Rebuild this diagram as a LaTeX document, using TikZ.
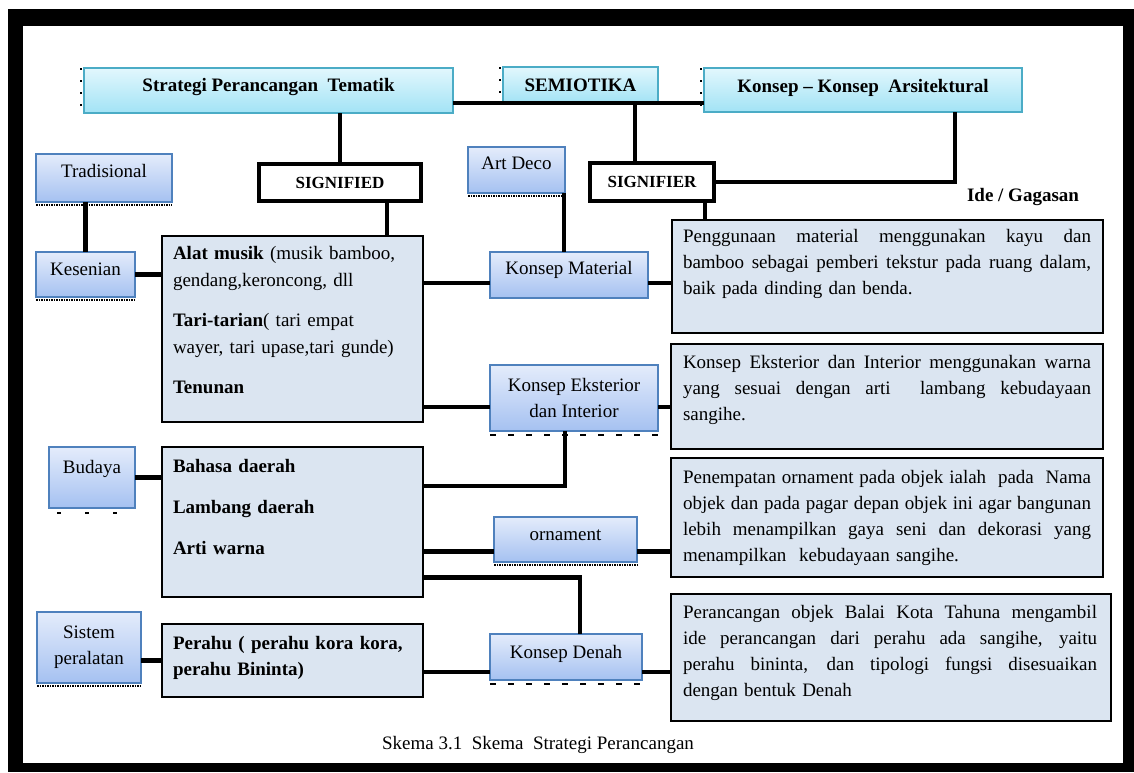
\documentclass[tikz,border=0pt]{standalone}
\usepackage{fontspec}
\setmainfont{Liberation Serif}
\usetikzlibrary{calc}

\definecolor{aqualine}{HTML}{4BACC6}
\definecolor{aquatop}{HTML}{E2F7FD}
\definecolor{aquabot}{HTML}{A2E3F5}
\definecolor{blueline}{HTML}{4F81BD}
\definecolor{bluetop}{HTML}{E4ECFB}
\definecolor{bluebot}{HTML}{A5C1F1}
\definecolor{descfill}{HTML}{DBE5F1}

% one justified line of a text block
\newcommand{\jline}[2][408pt]{\leavevmode\hbox to #1{\spaceskip=0.25em plus 1fil\relax #2}}

\begin{document}
\begin{tikzpicture}
	[x=1pt, y=-1pt,
	every node/.style={inner sep=0pt, outer sep=0pt},
	topbox/.style={anchor=north west, draw=aqualine, line width=1.5pt, top color=aquatop, bottom color=aquabot, font=\bfseries\fontsize{19}{22}\selectfont, text height=13pt},
	sigbox/.style={anchor=north west, draw=black, line width=4pt, fill=white, font=\bfseries\fontsize{17}{20}\selectfont},
	bluebox/.style={anchor=north west, draw=blueline, line width=1.5pt, top color=bluetop, bottom color=bluebot, font=\fontsize{19}{26}\selectfont},
	onetext/.style={text height=13pt, text depth=#1},
	itembox/.style={anchor=north west, draw=black, line width=2.8pt, fill=descfill},
	textblock/.style={anchor=north west, text width=#1, align=left, font=\fontsize{19}{26}\selectfont, execute at begin node={\parindent=0pt}},
	link/.style={line width=4.5pt, black}]

	\useasboundingbox (0,0) rectangle (1134,772);

	% Draw frame
	\fill[black] (8,9) rectangle (1134,772);
	\fill[white] (23,26) rectangle (1123,763);

	% Top row
	\node[topbox, minimum width=369pt, minimum height=45pt, text depth=12pt] (strat) at (84,68) {Strategi Perancangan\ \ Tematik};
	\node[topbox, minimum width=155pt, minimum height=36pt, text depth=0pt] (semio) at (503,67) {SEMIOTIKA};
	\node[topbox, minimum width=318pt, minimum height=44pt, text depth=9pt] (ars) at (704,68) {Konsep – Konsep\ \ Arsitektural};

	\node[sigbox, minimum width=162pt, minimum height=37pt] (sigd) at (259,164) {SIGNIFIED};
	\node[sigbox, minimum width=124pt, minimum height=38pt] (sigr) at (590,163) {SIGNIFIER};

	\node[font=\bfseries\fontsize{19}{22}\selectfont] (ide) at (1023,197) {Ide / Gagasan};

	% Left column
	\node[bluebox, onetext=15pt, minimum width=136pt, minimum height=48pt] (trad) at (36,154) {Tradisional};
	\node[bluebox, onetext=11pt, minimum width=99pt, minimum height=45pt] (kes) at (36,252) {Kesenian};
	\node[bluebox, onetext=22pt, minimum width=86pt, minimum height=61pt] (bud) at (49,447) {Budaya};
	\node[bluebox, align=center, minimum width=104pt, minimum height=71pt] (sis) at (37,612) {Sistem\\peralatan};

	% Middle column
	\node[bluebox, onetext=15pt, minimum width=97pt, minimum height=46pt] (ad) at (468,147) {Art Deco};
	\node[bluebox, onetext=15pt, minimum width=158pt, minimum height=46pt] (km) at (490,252) {Konsep Material};
	\node[bluebox, align=center, minimum width=168pt, minimum height=66pt] (kei) at (490,365) {Konsep Eksterior\\dan Interior};
	\node[bluebox, onetext=12pt, minimum width=143pt, minimum height=45pt] (orn) at (494,517) {ornament};
	\node[bluebox, onetext=11pt, minimum width=152pt, minimum height=46pt] (kd) at (490,634) {Konsep Denah};

	% Item boxes
	\node[itembox, minimum width=261pt, minimum height=186pt] (big1) at (162,236) {};
	\node[textblock=245pt, font=\fontsize{19}{27}\selectfont] (big1t) at (173,246) {\textbf{Alat musik} (musik bamboo,\\ gendang,keroncong, dll\\[13pt] \textbf{Tari-tarian}( tari empat\\ wayer, tari upase,tari gunde)\\[13pt] \textbf{Tenunan}};

	\node[itembox, minimum width=261pt, minimum height=150pt] (big2) at (162,447) {};
	\node[textblock=245pt, font=\bfseries\fontsize{19}{41}\selectfont] (big2t) at (173,459) {Bahasa daerah\\ Lambang daerah\\ Arti warna};

	\node[itembox, minimum width=261pt, minimum height=73pt] (big3) at (162,624) {};
	\node[textblock=245pt, font=\bfseries\fontsize{19}{26}\selectfont] (big3t) at (173,636) {Perahu ( perahu kora kora,\\ perahu Bininta)};

	% Description boxes
	\node[itembox, minimum width=431pt, minimum height=113pt] (d1) at (672,220) {};
	\node[textblock=408pt] (d1t) at (683,229) {\jline{Penggunaan material menggunakan kayu dan}\\ \jline{bamboo sebagai pemberi tekstur pada ruang dalam,}\\ baik pada dinding dan benda.};

	\node[itembox, minimum width=432pt, minimum height=105pt] (d2) at (671,344) {};
	\node[textblock=408pt] (d2t) at (683,355) {\jline{Konsep Eksterior dan Interior menggunakan warna}\\ \jline{yang sesuai dengan arti\ \ lambang kebudayaan}\\ sangihe.};

	\node[itembox, minimum width=432pt, minimum height=119pt] (d3) at (671,458) {};
	\node[textblock=408pt] (d3t) at (683,470) {\jline{Penempatan ornament pada objek ialah\ \ pada\ \ Nama}\\ \jline{objek dan pada pagar depan objek ini agar bangunan}\\ \jline{lebih menampilkan gaya seni dan dekorasi yang}\\ menampilkan\ \ kebudayaan sangihe.};

	\node[itembox, minimum width=440pt, minimum height=127pt] (d4) at (671,594) {};
	\node[textblock=414pt] (d4t) at (683,605) {\jline[414pt]{Perancangan objek Balai Kota Tahuna mengambil}\\ \jline[414pt]{ide perancangan dari perahu ada sangihe, yaitu}\\ \jline[414pt]{perahu bininta, dan tipologi fungsi disesuaikan}\\ dengan bentuk Denah};

	\node[font=\fontsize{19}{22}\selectfont] (cap) at (538,745) {Skema 3.1\ \ Skema\ \ Strategi Perancangan};

	% Draw links
	\draw[link] (strat.east |- semio.south) -- (ars.west |- semio.south);
	\draw[link] (sigd.north) -- (sigd.north |- strat.south);
	\draw[link] ([xshift=-17pt]sigr.north) -- ([xshift=-17pt]sigr.north |- semio.south);
	\draw[link] ([xshift=-67pt]ars.south east) |- (sigr.east);
	\draw[link] ([xshift=-9pt]sigr.south east) -- ([xshift=-9pt]sigr.south east |- d1.north);

	\draw[link] (kes.north) -- (kes.north |- trad.south);
	\draw[link] (kes.east) -- (kes.east -| big1.west);
	\draw[link] ([xshift=-34pt]sigd.south east) -- ([xshift=-34pt]sigd.south east |- big1.north);
	\draw[link] ([xshift=-1pt]ad.south east) -- ([xshift=-1pt]ad.south east |- km.north);

	\draw[link] ([yshift=-8pt]km.west) -- ([yshift=-8pt]km.west -| big1.east);
	\draw[link] ([yshift=-8pt]km.east) -- ([yshift=-8pt]km.east -| d1.west);
	\draw[link] ([yshift=-9pt]kei.west) -- ([yshift=-9pt]kei.west -| big1.east);
	\draw[link] ([yshift=-9pt]kei.east) -- ([yshift=-9pt]kei.east -| d2.west);

	\draw[link] (bud.east) -- (bud.east -| big2.west);
	\draw[link] ([xshift=-9pt]kei.south) |- ($(big2.north east)!.26!(big2.south east)$);
	\draw[link] ([yshift=-12pt]orn.west) -- ([yshift=-12pt]orn.west -| big2.east);
	\draw[link] ([yshift=-12pt]orn.east) -- ([yshift=-12pt]orn.east -| d3.west);
	\draw[link] ([xshift=14pt]kd.north) |- ($(big2.north east)!.87!(big2.south east)$);

	\draw[link] (big3.west) -- (big3.west -| sis.east);
	\draw[link] ([yshift=-15pt]kd.west) -- ([yshift=-15pt]kd.west -| big3.east);
	\draw[link] ([yshift=-15pt]kd.east) -- ([yshift=-15pt]kd.east -| d4.west);

	% Stray marks under boxes
	\foreach \n in {trad,kes,ad,orn,sis}
		\draw[densely dotted, line width=1.5pt] ([yshift=-3pt]\n.south west) -- ([yshift=-3pt]\n.south east);
	\foreach \n in {kei,kd}
		\draw[dash pattern=on 6pt off 12pt, line width=1.2pt] ([yshift=-4pt]\n.south west) -- ([yshift=-4pt]\n.south east);
	\draw[dash pattern=on 4pt off 24pt, line width=1.2pt] ([xshift=8pt, yshift=-5pt]bud.south west) -- ([yshift=-5pt]bud.south east);
	\foreach \n in {strat,semio,ars}
		\draw[dash pattern=on 2pt off 10pt, line width=1.5pt] ([xshift=-3pt]\n.north west) -- ([xshift=-3pt]\n.south west);

\end{tikzpicture}
\end{document}
